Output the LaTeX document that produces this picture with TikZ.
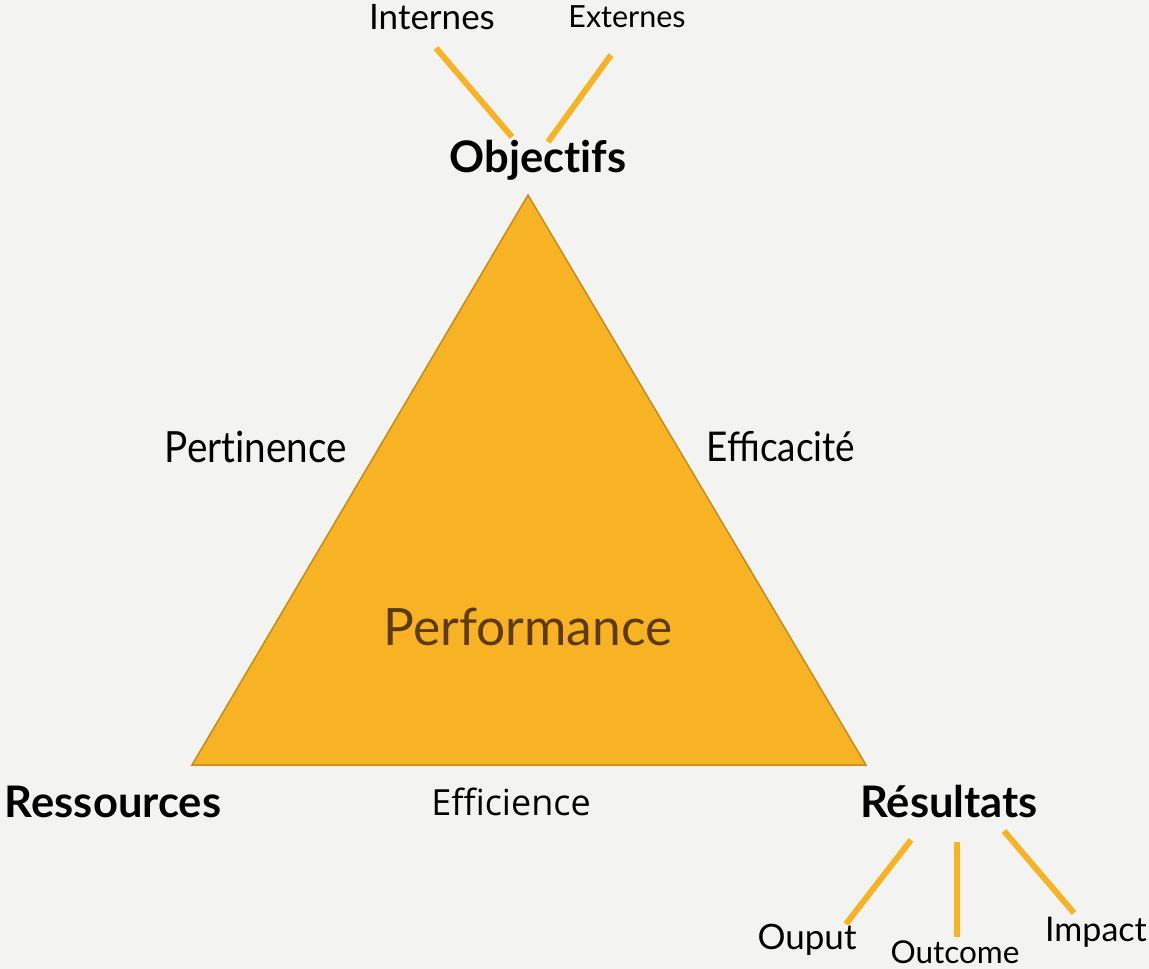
\documentclass[tikz,border=0pt]{standalone}
\usepackage{fontspec}
\setmainfont{Lato}
\newfontfamily\segoe{Open Sans}
\usetikzlibrary{calc}
\definecolor{bg}{HTML}{F3F3F2}
\definecolor{gold}{HTML}{F7B324}
\definecolor{goldedge}{HTML}{C38D1D}
\definecolor{perf}{HTML}{5E3B00}
\tikzset{
  lbl/.style={inner sep=0pt, anchor=center, text=black},
  bigbold/.style={lbl, font=\fontsize{43.5}{46}\selectfont\bfseries},
  side/.style={lbl, xscale=0.9},
  link/.style={draw=gold, line width=6pt}
}
\begin{document}
\begin{tikzpicture}[x=1pt,y=-1pt]
\fill[bg] (0,0) rectangle (1149,969);
\useasboundingbox (0,0) rectangle (1149,969);
% triangle
\coordinate (A) at (528,195);
\coordinate (B) at (192,765);
\coordinate (C) at (866,765);
\filldraw[fill=gold, draw=goldedge, line width=1.5pt, line join=miter] (A) -- (B) -- (C) -- cycle;
\node[lbl, text=perf, font=\fontsize{51.5}{54}\selectfont] (perf) at (528,627) {Performance};
% labels
\node[bigbold] (obj) at (538,160) {\addfontfeatures{RawFeature=-liga}Objectifs};
\node[bigbold] (res) at (113,802) {Ressources};
\node[bigbold] (resu) at (949,802) {Résultats};
\node[side, font=\fontsize{43}{46}\selectfont] (pert) at (256,447) {\addfontfeatures{RawFeature=-liga}Pertinence};
\node[side, font=\fontsize{41}{44}\selectfont] (effa) at (781,447) {Efficacité};
\node[lbl, font=\segoe\fontsize{36}{40}\selectfont] (effi) at (511,802) {Efficience};
\node[lbl, font=\fontsize{35}{38}\selectfont] (int) at (432,17) {Internes};
\node[lbl, font=\fontsize{30.5}{34}\selectfont] (ext) at (627,17) {Externes};
\node[lbl, font=\fontsize{35}{38}\selectfont] (oup) at (807,940) {Ouput};
\node[lbl, font=\fontsize{31.5}{34}\selectfont] (outc) at (955,952) {Outcome};
\node[lbl, font=\fontsize{34}{38}\selectfont] (imp) at (1096,932) {Impact};
% connectors
\coordinate (i1) at (436,48); \coordinate (i2) at (512,137);
\coordinate (e1) at (611,55); \coordinate (e2) at (548,142);
\coordinate (o1) at (911,840); \coordinate (o2) at (846,924);
\coordinate (c1) at (957,842); \coordinate (c2) at (957,937);
\coordinate (m1) at (1004,831); \coordinate (m2) at (1074,913);
\draw[link] (i1) -- (i2);
\draw[link] (e1) -- (e2);
\draw[link] (o1) -- (o2);
\draw[link] (c1) -- (c2);
\draw[link] (m1) -- (m2);
\end{tikzpicture}
\end{document}
